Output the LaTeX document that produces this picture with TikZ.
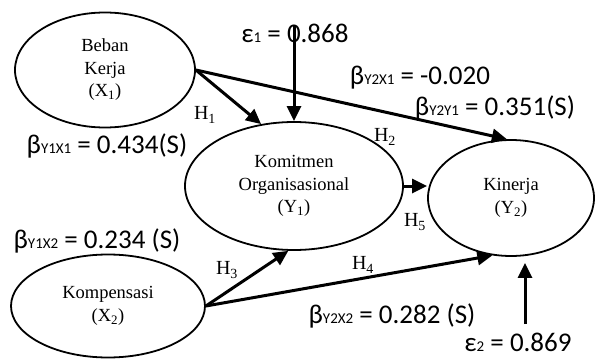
\documentclass[tikz,border=0pt]{standalone}
\usepackage{fontspec}
\setmainfont{Liberation Serif}
\newfontfamily\coeffont{Carlito}
\usepackage{tikz}
\usetikzlibrary{shapes.geometric, arrows.meta}
\tikzstyle{latent} =
[ellipse, line width = 1.8pt, text centered, align = center, draw=black,
font = \fontsize{18.5}{22.5}\selectfont]
\tikzstyle{hyp} =
[inner sep = 0pt, font = \fontsize{20}{22}\selectfont]
\tikzstyle{coef} =
[inner sep = 0pt, font = \coeffont\fontsize{27}{30}\selectfont]
\tikzstyle{line} = [draw, line width = 3pt,
-{Triangle[length=15pt, width=14pt]}]
\newcommand{\idx}[1]{{\fontsize{15}{15}\selectfont #1}}

\begin{document}
\begin{tikzpicture}[x = 1pt, y = 1pt]
  \useasboundingbox (0,0) rectangle (595,360);
  % latent variables
  \node [latent, minimum width = 180pt, minimum height = 115pt] (bk)
   at (105,290) {Beban\\Kerja\\(X\textsubscript{1})};
  \node [latent, minimum width = 194pt, minimum height = 103pt] (kp)
   at (108,54) {Kompensasi\\(X\textsubscript{2})};
  \node [latent, minimum width = 218pt, minimum height = 128pt] (kom)
   at (294,174) {Komitmen\\Organisasional\\(Y\textsubscript{1})};
  \node [latent, minimum width = 166pt, minimum height = 116pt] (kin)
   at (511,162) {Kinerja\\(Y\textsubscript{2})};
  % error terms
  \coordinate (e1) at (294,334);
  \coordinate (e2) at (525,36);
  \node [coef] (eps1) at (295,327) {ε\idx{1} = 0.868};
  \node [coef] (eps2) at (518,18) {ε\idx{2} = 0.869};
  % hypotheses
  \node [hyp] (h1) at (205,245) {H\textsubscript{1}};
  \node [hyp] (h2) at (385,223) {H\textsubscript{2}};
  \node [hyp] (h3) at (227,90) {H\textsubscript{3}};
  \node [hyp] (h4) at (363,95) {H\textsubscript{4}};
  \node [hyp] (h5) at (415,138) {H\textsubscript{5}};
  % path coefficients
  \node [coef] (by1x1) at (107,214) {β\idx{Y1X1} = 0.434(S)};
  \node [coef] (by2x1) at (420,282) {β\idx{Y2X1} = -0.020};
  \node [coef] (by2y1) at (495,252) {β\idx{Y2Y1} = 0.351(S)};
  \node [coef] (by1x2) at (97,119) {β\idx{Y1X2} = 0.234 (S)};
  \node [coef] (by2x2) at (392,44) {β\idx{Y2X2} = 0.282 (S)};
  % edges
  \path [line] (bk.east) -- (kom.118);
  \path [line] (bk.east) -- (kin.94);
  \path [line] (e1) -- (e1 |- kom.north);
  \path [line] (kom.east) -- (kom.east -| kin.west);
  \path [line] (kp.east) -- (kom.265);
  \path [line] (kp.east) -- (kin.252);
  \path [line, shorten >= 6pt] (e2) -- (e2 |- kin.south);
\end{tikzpicture}
\end{document}
